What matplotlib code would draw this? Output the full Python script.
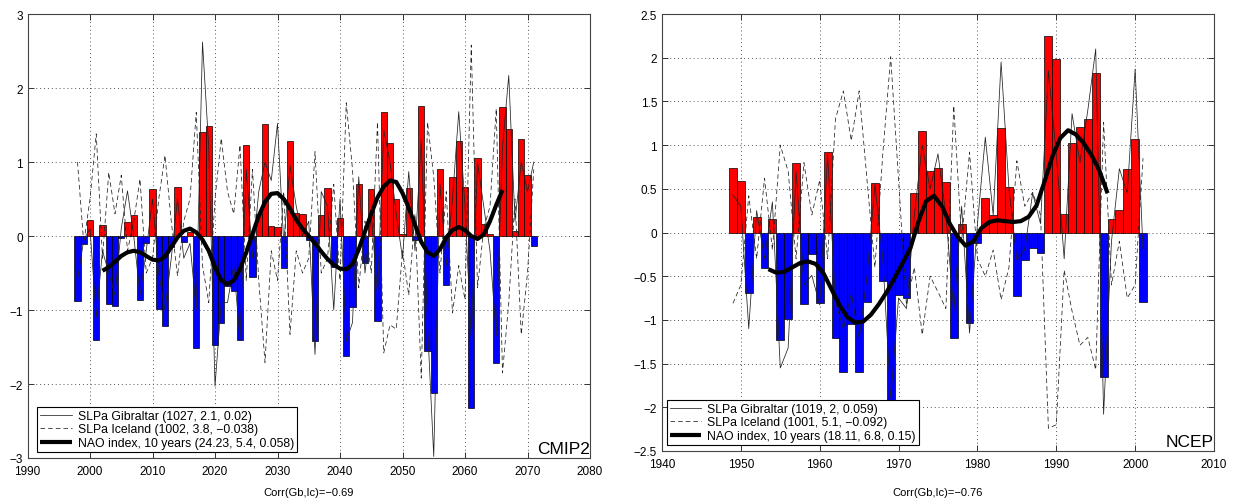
import matplotlib
matplotlib.use('Agg')
import matplotlib.pyplot as plt

plt.rcParams['font.family'] = ['Liberation Sans', 'DejaVu Sans']

# ---------------- CMIP2 panel data ----------------
cmip_years = list(range(1998, 2072))
cmip_nao = [-0.88, -0.11, 0.21, -1.41, 0.15, -0.92, -0.94, -0.03, 0.19, 0.28,
            -0.86, -0.10, 0.64, -0.99, -1.22, -0.15, 0.66, -0.08, 0.06, -1.51,
            1.41, 1.49, -1.47, -1.18, -0.68, -0.74, -1.40, 1.23, -0.56, 0.30,
            1.51, 0.14, 0.12, -0.43, 1.29, 0.31, 0.30, -0.05, -1.42, 0.29,
            0.65, -0.42, 0.24, -1.62, -0.96, 0.70, -0.37, 0.63, -1.15, 1.68,
            1.26, 0.50, 0.03, 0.65, -0.05, 1.76, -1.56, -2.12, 0.91, -0.66,
            0.80, 1.29, 0.66, -2.33, 1.05, 0.16, 0.03, -1.72, 1.75, 1.44,
            0.07, 1.31, 0.83, -0.14]
cmip_gib = [-0.6, -0.05, 0.1, -1.1, -0.2, -0.5, -0.8, 0.1, 0.61, 0.0,
            -0.8, -0.2, 0.5, -0.5, -1.0, -0.3, 0.5, -0.3, -0.1, -1.0,
            2.62, 1.2, -2.03, -0.9, -0.9, -0.4, -1.4, 0.9, -0.3, 0.6,
            1.0, 0.75, 1.52, -0.1, 0.95, 0.4, 0.0, 0.2, -1.6, 0.6,
            0.4, -1.0, 0.5, -1.42, -1.17, 0.8, -0.5, 0.3, -0.8, 1.43,
            1.0, 0.3, -0.3, 0.87, -0.2, 1.3, -1.2, -2.98, 0.7, -0.4,
            0.5, 1.68, 0.4, -1.4, 1.0, 0.4, -0.2, -1.35, 1.2, 2.17,
            0.2, 1.0, 0.6, 1.0]
cmip_ice = [1.0, -0.1, 0.5, 1.38, -0.3, 0.86, 0.3, 0.82, -0.2, 0.2,
            0.77, -0.5, -0.3, 0.5, 1.09, 0.2, -0.54, 0.2, 0.5, 1.67,
            -0.4, -0.9, 0.5, 1.32, 0.6, 0.3, 1.23, -0.6, 0.9, -0.6,
            -1.71, -0.2, -0.6, 0.6, -1.33, -0.2, -0.5, -0.3, 1.14, -0.5,
            -0.3, 0.7, -0.6, 1.80, 0.9, -0.7, 0.2, -0.5, 1.54, -1.58,
            -1.2, -1.26, -0.2, -0.8, 0.3, -1.92, 1.54, 0.8, -0.5, 0.6,
            -1.04, -0.4, -0.86, 2.58, -0.7, 0.1, 0.4, 1.72, -1.85, -0.9,
            0.5, -1.33, -0.5, 0.9]
cmip_smooth_years = list(range(2002, 2067))
cmip_smooth = [-0.47, -0.42, -0.35, -0.27, -0.22, -0.20, -0.22, -0.27, -0.32, -0.33,
               -0.28, -0.15, -0.02, 0.07, 0.10, 0.05, -0.05, -0.20, -0.42, -0.60,
               -0.65, -0.60, -0.45, -0.22, 0.03, 0.27, 0.46, 0.57, 0.58, 0.50,
               0.37, 0.22, 0.10, 0.00, -0.10, -0.21, -0.31, -0.39, -0.44, -0.45,
               -0.38, -0.18, 0.06, 0.30, 0.52, 0.67, 0.75, 0.73, 0.58, 0.38,
               0.15, -0.08, -0.22, -0.27, -0.18, -0.02, 0.08, 0.12, 0.08, 0.00,
               -0.04, 0.02, 0.20, 0.42, 0.62]
cmip_labels = ['SLPa Gibraltar (1027, 2.1, 0.02)',
               'SLPa Iceland (1002, 3.8, \u22120.038)',
               'NAO index, 10 years (24.23, 5.4, 0.058)']
cmip_xticks = list(range(1990, 2081, 10))
cmip_yticks = [-3, -2, -1, 0, 1, 2, 3]

# ---------------- NCEP panel data ----------------
ncep_years = list(range(1949, 2002))
ncep_nao = [0.74, 0.59, -0.69, 0.18, -0.41, 0.15, -1.23, -0.99, 0.80, -0.82,
            -0.25, -0.81, 0.92, -1.21, -1.60, -1.05, -1.60, -0.80, 0.57, -0.56,
            -1.93, -0.72, -0.75, 0.45, 1.16, 0.70, 0.74, 0.58, -1.21, 0.10,
            -1.04, -0.12, 0.40, 0.20, 1.20, 0.52, -0.73, -0.32, -0.18, -0.24,
            2.25, 1.98, 0.21, 1.02, 1.21, 1.30, 1.83, -1.65, 0.15, 0.26,
            0.73, 1.07, -0.79]
ncep_gib = [0.43, 0.30, -1.10, 0.25, -0.30, 0.35, -1.55, -1.32, 0.70, -0.60,
            -0.49, -0.83, 0.90, -0.80, -1.10, -0.70, -1.21, -0.50, 0.55, -0.30,
            -1.90, -0.75, -0.87, 0.20, 1.00, 0.50, 0.90, 0.20, -0.90, 0.30,
            -1.15, 0.10, 1.09, 0.20, 1.95, 0.50, -0.31, -0.20, 0.45, 0.10,
            1.85, 0.90, -0.30, 1.36, 0.80, 1.40, 2.10, -2.08, -0.10, 0.73,
            0.45, 1.87, -0.20]
ncep_ice = [-0.81, -0.60, 0.42, -0.30, 0.62, -0.20, 1.00, 0.70, -0.30, 0.80,
            0.20, 0.60, -0.30, 1.30, 1.62, 1.05, 1.62, 0.60, -0.40, 0.90,
            2.01, 0.60, -0.83, -0.40, -1.17, -0.50, -0.68, -0.87, 1.45, -0.10,
            0.92, -0.30, -0.50, -0.20, -0.77, -0.40, 0.82, 0.30, 0.46, 0.20,
            -2.24, -2.20, -0.43, -0.90, -1.29, -1.20, -1.57, 1.26, -0.60, -0.10,
            -0.75, -0.60, 0.85]
ncep_smooth_years = [1953.5 + i for i in range(44)]
ncep_smooth = [-0.42, -0.46, -0.45, -0.40, -0.35, -0.33, -0.36, -0.47, -0.65, -0.83,
               -0.97, -1.03, -1.02, -0.94, -0.82, -0.68, -0.52, -0.35, -0.18, 0.12,
               0.36, 0.42, 0.30, 0.10, -0.05, -0.15, -0.10, 0.05, 0.12, 0.14,
               0.13, 0.12, 0.13, 0.18, 0.31, 0.58, 0.87, 1.08, 1.17, 1.12,
               1.02, 0.88, 0.70, 0.45]
ncep_labels = ['SLPa Gibraltar (1019, 2, 0.059)',
               'SLPa Iceland (1001, 5.1, \u22120.092)',
               'NAO index, 10 years (18.11, 6.8, 0.15)']
ncep_xticks = list(range(1940, 2011, 10))
ncep_yticks = [-2.5, -2, -1.5, -1, -0.5, 0, 0.5, 1, 1.5, 2, 2.5]

W, H = 1236, 502
fig = plt.figure(figsize=(W / 100, H / 100), dpi=100)


def px_axes(x0, x1, ytop, ybot):
    return fig.add_axes([x0 / W, (H - ybot) / H, (x1 - x0) / W, (ybot - ytop) / H])


def panel(ax, years, nao, gib, ice, sy, sm, labels, xticks, yticks, tag, leg_anchor):
    colors = ['#ff0000' if v >= 0 else '#0000ff' for v in nao]
    ax.bar(years, nao, width=1.0, color=colors, edgecolor='black',
           linewidth=0.5, zorder=2)
    ax.plot(years, gib, '-', color='#222222', lw=0.55, zorder=3, label=labels[0])
    ax.plot(years, ice, '--', color='#222222', lw=0.55, dashes=(6, 4),
            zorder=3, label=labels[1])
    ax.plot(sy, sm, '-', color='black', lw=3.0, zorder=4,
            solid_capstyle='butt', label=labels[2])
    ax.set_xlim(xticks[0], xticks[-1])
    ax.set_ylim(yticks[0], yticks[-1])
    ax.set_xticks(xticks)
    ax.set_yticks(yticks)
    ax.set_yticklabels([('%g' % t).replace('-', '\u2212') for t in yticks])
    ax.set_axisbelow(True)
    ax.grid(True, linestyle=(0, (1, 3)), color='#555555', lw=0.7)
    ax.tick_params(direction='in', length=4, top=True, right=True,
                   labelsize=8.5, width=0.7, colors='#333333', labelcolor='black')
    ax.tick_params(axis='x', pad=5)
    for s in ax.spines.values():
        s.set_linewidth(0.8)
        s.set_color('#444444')
    leg = ax.legend(loc='lower right', bbox_to_anchor=leg_anchor,
                    borderaxespad=0, fancybox=False, framealpha=1,
                    edgecolor='black', fontsize=8.8, handlelength=2.6,
                    handletextpad=0.5, labelspacing=0.12, borderpad=0.25)
    leg.get_frame().set_linewidth(0.8)
    leg.set_zorder(10)
    ax.text(1.0, 0.004, tag, transform=ax.transAxes, ha='right', va='bottom',
            fontsize=12.5, zorder=11)


ax1 = px_axes(27.5, 590, 15, 459)
panel(ax1, cmip_years, cmip_nao, cmip_gib, cmip_ice, cmip_smooth_years,
      cmip_smooth, cmip_labels, cmip_xticks, cmip_yticks, 'CMIP2', (0.479, 0.0135))

ax2 = px_axes(662, 1214, 15, 452)
panel(ax2, ncep_years, ncep_nao, ncep_gib, ncep_ice, ncep_smooth_years,
      ncep_smooth, ncep_labels, ncep_xticks, ncep_yticks, 'NCEP', (0.4656, 0.0137))

fig.text(309 / W, (H - 493) / H, 'Corr(Gb,Ic)=\u22120.69', ha='center',
         va='center', fontsize=8)
fig.text(938 / W, (H - 493) / H, 'Corr(Gb,Ic)=\u22120.76', ha='center',
         va='center', fontsize=8)

fig.savefig('out.png', dpi=100)
